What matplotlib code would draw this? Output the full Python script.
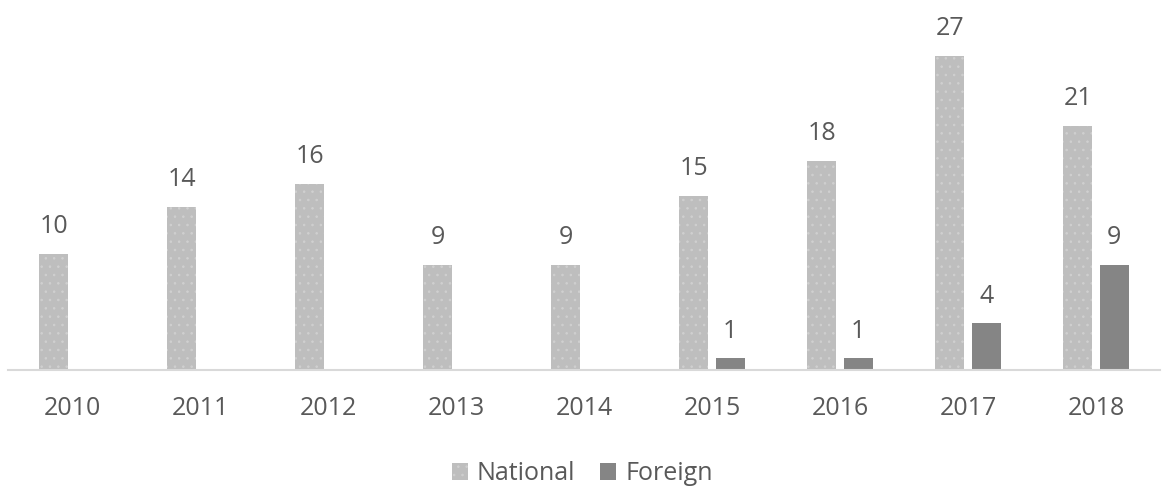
import matplotlib
matplotlib.use("Agg")
import matplotlib.pyplot as plt
import numpy as np

years = ["2010", "2011", "2012", "2013", "2014", "2015", "2016", "2017", "2018"]
national = [10, 14, 16, 9, 9, 15, 18, 27, 21]
foreign = [0, 0, 0, 0, 0, 1, 1, 4, 9]
foreign_labels = [None, None, None, None, None, 1, 1, 4, 9]

W, H = 1164, 488
fig = plt.figure(figsize=(W / 100, H / 100), dpi=100)
ax = fig.add_axes([8 / W, (H - 370) / H, (1160 - 8) / W, 370 / H])

x = np.arange(len(years))
bw = 0.225
gap = 0.06
off = (bw + gap) / 2
c_nat = "#bebebe"
c_for = "#858585"
txt = "#595959"
plt.rcParams['hatch.color'] = '#d0d0d0'
plt.rcParams['hatch.linewidth'] = 0.6

b1 = ax.bar(x - off, national, bw, color=c_nat, label="National", hatch="..", linewidth=0)
b2 = ax.bar(x + off, foreign, bw, color=c_for, label="Foreign", linewidth=0)

fs = 18
for xi, v in zip(x, national):
    ax.annotate(str(v), (xi - off, v), xytext=(0, 15), textcoords="offset points",
                ha="center", va="baseline", fontsize=fs, color=txt, family="Open Sans")
for xi, v in zip(x, foreign_labels):
    if v is not None:
        ax.annotate(str(v), (xi + off, v), xytext=(0, 15), textcoords="offset points",
                    ha="center", va="baseline", fontsize=fs, color=txt, family="Open Sans")

ax.set_xlim(-0.5, len(years) - 0.5)
ax.set_ylim(0, 370 / 11.63)
ax.set_yticks([])
ax.set_xticks(x)
ax.set_xticklabels(years, fontsize=fs, color=txt, family="Open Sans")
ax.tick_params(axis="x", length=0, pad=19)
for s in ["top", "right", "left"]:
    ax.spines[s].set_visible(False)
ax.spines["bottom"].set_color("#d9d9d9")
ax.spines["bottom"].set_linewidth(1.5)

leg = fig.legend(handles=[b1, b2], labels=["National", "Foreign"], loc="center",
                 bbox_to_anchor=(0.5, (H - 474) / H), ncol=2, frameon=False,
                 prop={"family": "Open Sans", "size": fs}, handlelength=0.64,
                 handleheight=0.64, handletextpad=0.36, columnspacing=1.0,
                 borderpad=0, borderaxespad=0)
for t in leg.get_texts():
    t.set_color(txt)

fig.savefig("out.png", dpi=100)
